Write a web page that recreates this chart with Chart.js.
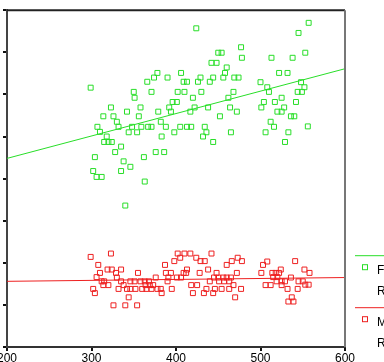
<!DOCTYPE html>
<html>
<head>
<meta charset="utf-8">
<script src="https://cdn.jsdelivr.net/npm/chart.js@4.4.1/dist/chart.umd.min.js"></script>
<style>
  html, body { margin: 0; padding: 0; background: #fff; }
  #wrap { position: relative; width: 384px; height: 362px; overflow: hidden; }
  #plot { position: absolute; left: -40px; top: 0; }
</style>
</head>
<body>
<div id="wrap"><canvas id="plot" width="544" height="382"></canvas></div>
<script>
// x ticks / y range (y labels sit outside the visible crop)
const xTicks = [200, 300, 400, 500, 600];
const yMin = 0, yMax = 80, yStep = 10;

const groupNames = ["Female", "Male"];
const fitLabels = ["R Sq Linear = 0.262", "R Sq Linear = 0.001"];

// Female points
const femaleX = [424, 442, 299, 378, 374, 366, 390, 406, 409, 413, 426, 429, 440, 444, 350, 351, 371, 402, 410, 430,
  420, 396, 401, 392, 394, 379, 358, 342, 323, 314, 326, 330, 356, 382, 417, 422, 438, 307, 332, 348,
  359, 367, 371, 388, 405, 413, 418, 434, 310, 344, 354, 398, 436, 318, 383, 432, 315, 320, 324, 444,
  335, 328, 376, 386, 304, 362, 338, 346, 302, 335, 306, 312, 363, 340,
  557, 545, 477, 450, 454, 478, 513, 538, 553, 448, 460, 458, 456, 469, 474, 522, 532, 500, 508, 510,
  468, 462, 548, 552, 544, 549, 525, 504, 517, 542, 501, 528, 464, 472, 520, 525, 452, 536, 540, 512,
  516, 556, 465, 506, 533, 529];
const femaleY = [75.7, 67.5, 61.6, 65.1, 64.0, 63.0, 64.0, 65.1, 63.0, 63.0, 63.0, 64.0, 63.0, 64.0, 60.6, 59.2, 60.6, 60.6, 60.6, 60.6,
  59.2, 58.2, 58.2, 56.9, 55.9, 55.9, 56.9, 55.9, 56.9, 54.8, 54.8, 53.5, 54.8, 53.5, 55.9, 56.9, 56.9, 52.3, 52.3, 52.3,
  52.3, 52.3, 52.3, 52.3, 52.3, 52.3, 52.3, 52.3, 51.1, 51.0, 51.0, 51.0, 51.0, 50.0, 50.0, 50.0, 48.7, 48.7, 48.7, 48.7,
  47.6, 46.3, 46.3, 46.3, 45.1, 45.1, 44.1, 42.8, 41.8, 41.8, 40.4, 40.4, 39.3, 33.6,
  77.0, 74.6, 71.2, 69.9, 69.9, 68.7, 68.7, 68.7, 69.9, 67.5, 66.4, 65.1, 64.0, 64.0, 64.0, 65.1, 65.1, 62.9, 61.7, 60.6,
  60.6, 59.2, 62.9, 61.7, 60.6, 60.6, 59.2, 58.2, 58.2, 58.2, 56.9, 56.9, 56.9, 55.9, 55.9, 55.9, 54.8, 54.8, 54.8, 53.5,
  52.3, 52.4, 51.0, 51.0, 51.0, 48.7];

// Male points
const maleX = [299, 323, 308, 319, 324, 335, 310, 306, 329, 330, 312, 315, 335, 314, 320, 338, 302, 304, 332, 326,
  340, 354, 344, 355, 346, 351, 342, 346, 352, 358, 363, 368, 360, 365, 371, 364, 369, 376, 373, 378,
  382, 383, 387, 398, 402, 410, 417, 405, 424, 429, 434, 442, 388, 394, 391, 390, 395, 401, 406, 413,
  409, 412, 428, 438, 418, 425, 420, 433, 436, 440, 448, 445, 451, 457, 450, 456, 446, 444, 454, 460,
  466, 473, 478, 472, 463, 468, 460, 465, 463, 477, 470, 501, 503, 508, 514, 518, 522, 524, 515, 520,
  519, 525, 529, 506, 512, 536, 541, 525, 532, 544, 545, 550, 553, 557, 552, 558, 537, 533, 539];
const maleY = [21.4, 22.2, 19.5, 18.4, 18.4, 18.4, 17.6, 16.6, 17.6, 16.5, 15.6, 15.6, 15.6, 14.7, 14.7, 14.7, 13.8, 12.8, 13.8, 9.9,
  9.9, 9.9, 11.8, 17.6, 15.6, 15.6, 13.8, 13.8, 13.8, 15.6, 15.6, 15.6, 13.8, 13.8, 13.8, 14.7, 14.7, 16.5, 14.7, 13.8,
  13.8, 12.8, 19.5, 20.4, 22.2, 22.2, 22.2, 21.2, 21.2, 20.4, 20.4, 22.2, 17.6, 17.6, 16.5, 15.6, 13.8, 16.5, 16.5, 18.4,
  17.6, 17.6, 17.6, 18.4, 14.7, 14.7, 12.8, 12.8, 13.8, 15.6, 17.6, 16.5, 15.6, 15.6, 16.5, 16.5, 13.8, 12.8, 13.8, 19.5,
  20.4, 21.2, 20.4, 17.6, 15.6, 14.7, 16.5, 16.5, 13.8, 13.8, 11.8, 17.6, 19.5, 20.3, 17.6, 17.6, 17.6, 18.4, 16.6, 16.6,
  15.6, 15.6, 15.6, 14.7, 14.7, 16.5, 20.4, 14.7, 13.8, 13.8, 15.6, 15.6, 14.8, 14.8, 18.4, 17.6, 11.8, 10.8, 10.8];

// linear fit lines, ends at x = 200 and 600
const fitX = [200, 600];
const femaleFit = [44.8, 66.1];
const maleFit = [15.6, 16.5];

const GREEN = "rgb(40, 222, 40)";
const RED = "rgb(238, 32, 32)";

const toPts = (xs, ys) => xs.map((x, i) => ({ x, y: ys[i] }));

// top/right edges of the box + the key on the right
const frameAndKey = {
  id: "frameAndKey",
  afterDraw(chart) {
    const { ctx, chartArea: a } = chart;
    ctx.save();
    ctx.lineWidth = 2;
    ctx.strokeStyle = "#222";
    ctx.beginPath(); ctx.moveTo(a.left, a.top); ctx.lineTo(a.right, a.top); ctx.stroke();
    ctx.strokeStyle = "#777";
    ctx.beginPath(); ctx.moveTo(a.right, a.top); ctx.lineTo(a.right, a.bottom); ctx.stroke();

    const colors = [GREEN, RED];
    const x0 = a.right + 10;
    ctx.font = '12px "Liberation Sans", Arial, sans-serif';
    ctx.textBaseline = "middle";
    groupNames.forEach((name, i) => {
      const y0 = a.top + 245 + i * 52;
      ctx.strokeStyle = colors[i];
      ctx.lineWidth = 1;
      ctx.beginPath(); ctx.moveTo(x0, y0 + 0.5); ctx.lineTo(x0 + 45, y0 + 0.5); ctx.stroke();
      ctx.strokeRect(x0 + 7.5, y0 + 9.5, 5, 5);
      ctx.fillStyle = "#000";
      ctx.fillText(name, x0 + 22, y0 + 15);
      ctx.fillText(fitLabels[i], x0 + 22, y0 + 36);
    });
    ctx.restore();
  }
};

new Chart(document.getElementById("plot"), {
  type: "scatter",
  data: {
    datasets: [
      { data: toPts(femaleX, femaleY), pointStyle: "rect", pointRadius: 3.5, borderColor: GREEN, backgroundColor: "rgba(0,0,0,0)", borderWidth: 1 },
      { data: toPts(maleX, maleY), pointStyle: "rect", pointRadius: 3.5, borderColor: RED, backgroundColor: "rgba(0,0,0,0)", borderWidth: 1 },
      { data: toPts(fitX, femaleFit), showLine: true, pointRadius: 0, borderColor: GREEN, borderWidth: 1 },
      { data: toPts(fitX, maleFit), showLine: true, pointRadius: 0, borderColor: RED, borderWidth: 1 }
    ]
  },
  options: {
    responsive: false,
    animation: false,
    devicePixelRatio: 1,
    layout: { padding: { left: 0, top: 8, right: 159, bottom: 0 } },
    plugins: { legend: { display: false }, tooltip: { enabled: false } },
    scales: {
      x: {
        type: "linear",
        min: xTicks[0],
        max: xTicks[xTicks.length - 1],
        ticks: { stepSize: 100, color: "#000", padding: 0, font: { family: '"Liberation Sans", Arial, sans-serif', size: 12 } },
        grid: { drawOnChartArea: false, drawTicks: true, tickLength: 4, color: "#111", lineWidth: 2 },
        border: { display: true, color: "#333", width: 2 },
        afterFit(scale) { scale.height = 35; }
      },
      y: {
        type: "linear",
        min: yMin,
        max: yMax,
        ticks: { stepSize: yStep, color: "#000", font: { family: '"Liberation Sans", Arial, sans-serif', size: 12 } },
        grid: { drawOnChartArea: false, drawTicks: true, tickLength: 4, color: "#111", lineWidth: 2 },
        border: { display: true, color: "#444", width: 2 },
        afterFit(scale) { scale.width = 47; }
      }
    }
  },
  plugins: [frameAndKey]
});
</script>
</body>
</html>
